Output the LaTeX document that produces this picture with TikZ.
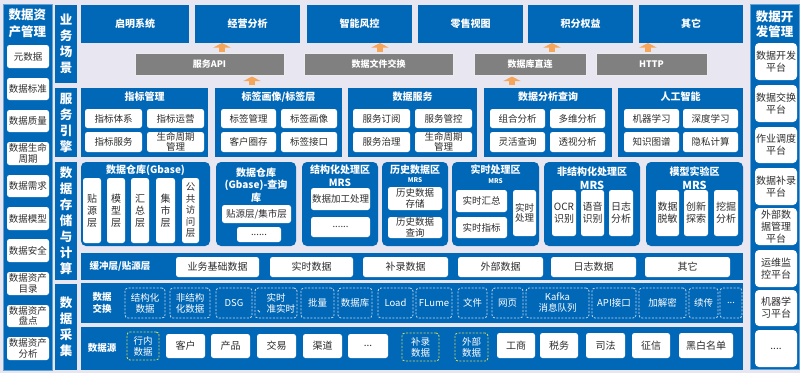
\documentclass[tikz,border=0pt]{standalone}
\usepackage{fontspec}
\setmainfont{Noto Sans CJK SC}
\usetikzlibrary{arrows.meta}
\definecolor{bg}{RGB}{232,230,241}
\definecolor{myblue}{RGB}{0,104,183}
\definecolor{mygray}{RGB}{128,128,128}
\definecolor{myorange}{RGB}{245,166,90}
\definecolor{dashw}{RGB}{200,215,240}
\definecolor{dashy}{RGB}{205,215,90}
\definecolor{txt}{RGB}{45,45,45}
\newcommand\fs[2]{\fontsize{#1}{#2}\selectfont}
\newcommand\bx[7]{\node[#6, minimum width={(#4)-(#2)}, minimum height={(#5)-(#3)}] (#1) at ({((#2)+(#4))/2},{((#3)+(#5))/2}) {#7};}
\tikzset{
  base/.style={inner sep=0pt, outer sep=0pt, align=center},
  bluebox/.style={base, fill=myblue, text=white},
  rpanel/.style={bluebox, rounded corners=5pt},
  sect/.style={bluebox, font=\bfseries\fs{12.5}{16}},
  topbox/.style={bluebox, font=\bfseries\fs{10}{12}},
  wbox/.style={base, fill=white, rounded corners=2.5pt, text=txt, font=\fs{9.5}{10.5}},
  sbox/.style={wbox, rounded corners=4pt, font=\fs{10}{12}},
  graybar/.style={base, fill=mygray, draw=white!85!gray, line width=0.8pt, text=white, font=\bfseries\fs{9}{10}},
  xbox/.style={base, draw=dashw, line width=0.8pt, dash pattern=on 2pt off 1.5pt, rounded corners=3pt, text=white, font=\fs{9.5}{11}},
  ybox/.style={base, draw=dashy, line width=0.9pt, dash pattern=on 2pt off 1.5pt, rounded corners=3pt, text=white, font=\fs{9.5}{11}},
  ttl/.style={base, text=white, font=\bfseries\fs{10}{12.5}},
  smrs/.style={base, text=white, font=\bfseries\fs{6.5}{7}},
  oarr/.style={draw=myorange, line width=6.5pt, -{Triangle[width=17pt,length=4.5pt]}},
}
\begin{document}
\begin{tikzpicture}[x=1pt,y=-1pt]
\fill[bg] (0,0) rectangle (800,373);
\useasboundingbox (0,0) rectangle (800,373);

% left sidebar
\bx{lsb}{3}{4}{52}{370}{bluebox, draw=myblue!60!white, line width=0.6pt}{}
\node[ttl, font=\bfseries\fs{12.5}{16.5}] (lsbt) at (27.5,23.5) {数据资\\产管理};
\bx{l1}{7}{45}{49}{68}{wbox}{元数据}
\bx{l2}{7}{78}{49}{100}{wbox}{数据标准}
\bx{l3}{7}{110}{49}{132}{wbox}{数据质量}
\bx{l4}{7}{142}{49}{165}{wbox}{数据生命\\周期}
\bx{l5}{7}{175}{49}{197}{wbox}{数据需求}
\bx{l6}{7}{207}{49}{230}{wbox}{数据模型}
\bx{l7}{7}{239}{49}{262}{wbox}{数据安全}
\bx{l8}{7}{272}{49}{295}{wbox}{数据资产\\目录}
\bx{l9}{7}{305}{49}{327}{wbox}{数据资产\\盘点}
\bx{l10}{7}{337}{49}{360}{wbox}{数据资产\\分析}

% section labels
\bx{s1}{55}{5}{77}{83}{sect}{业\\务\\场\\景}
\bx{s2}{55}{88}{77}{157}{sect}{服\\务\\引\\擎}
\bx{s3}{55}{162}{77}{280}{sect}{数\\据\\存\\储\\与\\计\\算}
\bx{s4}{55}{284}{77}{370}{sect}{数\\据\\采\\集}

% right sidebar
\bx{rsb}{750}{4}{799}{369}{bluebox, draw=myblue!60!white, line width=0.6pt}{}
\node[ttl, font=\bfseries\fs{12.5}{15}] (rsbt) at (774.5,24.5) {数据开\\发管理};
\bx{r1}{755}{43}{797}{80}{sbox}{数据开发\\平台}
\bx{r2}{755}{85}{797}{122}{sbox}{数据交换\\平台}
\bx{r3}{755}{127}{797}{163}{sbox}{作业调度\\平台}
\bx{r4}{755}{168}{797}{205}{sbox}{数据补录\\平台}
\bx{r5}{755}{208}{797}{245}{sbox}{外部数\\据管理\\平台}
\bx{r6}{755}{250}{797}{287}{sbox}{运维监\\控平台}
\bx{r7}{755}{290}{797}{326}{sbox}{机器学\\习平台}
\bx{r8}{755}{330}{797}{367}{sbox}{....}

% business scenarios
\bx{b1}{81}{5}{189}{43}{topbox}{启明系统}
\bx{b2}{195}{5}{300}{43}{topbox}{经营分析}
\bx{b3}{307}{5}{412}{43}{topbox}{智能风控}
\bx{b4}{418}{5}{523}{43}{topbox}{零售视图}
\bx{b5}{528}{5}{633}{43}{topbox}{积分权益}
\bx{b6}{639}{5}{743}{43}{topbox}{其它}

\bx{g1}{135}{53}{284}{75}{graybar}{服务API}
\bx{g2}{304}{53}{453}{75}{graybar}{数据文件交换}
\bx{g3}{474}{53}{586}{75}{graybar}{数据库直连}
\bx{g4}{596}{53}{707}{75}{graybar}{HTTP}

% service engine
\bx{p1}{81}{88}{208}{157}{bluebox}{}
\bx{p2}{215}{88}{342}{157}{bluebox}{}
\bx{p3}{348}{88}{477}{157}{bluebox}{}
\bx{p4}{484}{88}{612}{157}{bluebox}{}
\bx{p5}{618}{88}{743}{157}{bluebox}{}
\node[ttl] (p1t) at (144.5,97) {指标管理};
\node[ttl] (p2t) at (278.5,97) {标签画像/标签层};
\node[ttl] (p3t) at (412.5,97) {数据服务};
\node[ttl] (p4t) at (548,97) {数据分析查询};
\node[ttl] (p5t) at (680.5,97) {人工智能};
\bx{p1a}{85}{109}{142}{128}{wbox}{指标体系}
\bx{p1b}{147}{109}{204}{128}{wbox}{指标运营}
\bx{p1c}{85}{132}{142}{152}{wbox}{指标服务}
\bx{p1d}{147}{132}{204}{152}{wbox, font=\fs{9.5}{10}}{生命周期\\管理}
\bx{p2a}{221}{109}{276}{128}{wbox}{标签管理}
\bx{p2b}{281}{109}{337}{128}{wbox}{标签画像}
\bx{p2c}{221}{132}{276}{152}{wbox}{客户圈存}
\bx{p2d}{281}{132}{337}{152}{wbox}{标签接口}
\bx{p3a}{353}{109}{410}{128}{wbox}{服务订阅}
\bx{p3b}{415}{109}{472}{128}{wbox}{服务管控}
\bx{p3c}{353}{132}{410}{152}{wbox}{服务治理}
\bx{p3d}{415}{132}{472}{152}{wbox, font=\fs{9.5}{10}}{生命周期\\管理}
\bx{p4a}{490}{109}{545}{128}{wbox}{组合分析}
\bx{p4b}{550}{109}{605}{128}{wbox}{多维分析}
\bx{p4c}{490}{132}{545}{152}{wbox}{灵活查询}
\bx{p4d}{550}{132}{605}{152}{wbox}{透视分析}
\bx{p5a}{624}{109}{679}{128}{wbox}{机器学习}
\bx{p5b}{683}{109}{738}{128}{wbox}{深度学习}
\bx{p5c}{624}{132}{679}{152}{wbox}{知识图谱}
\bx{p5d}{683}{132}{738}{152}{wbox}{隐私计算}

% arrows
\draw[oarr, shorten <=1pt] (222,0 |- g1.north) -- (222,0 |- b2.south);
\draw[oarr, shorten <=1pt] (380,0 |- g2.north) -- (380,0 |- b3.south);
\draw[oarr, shorten <=1pt] (552,0 |- g3.north) -- (552,0 |- b5.south);
\draw[oarr, shorten <=1pt] (648,0 |- g4.north) -- (648,0 |- b6.south);
\draw[oarr, shorten <=3pt, shorten >=1.5pt] (252,0 |- p2.north) -- (252,0 |- g1.south);
\draw[oarr, shorten <=3pt, shorten >=1.5pt] (512,0 |- p4.north) -- (512,0 |- g3.south);

% storage & compute
\bx{q1}{81}{162}{210}{246}{rpanel}{}
\bx{q2}{216}{162}{296}{246}{rpanel}{}
\bx{q3}{302}{162}{378}{246}{rpanel}{}
\bx{q4}{382}{162}{448}{246}{rpanel}{}
\bx{q5}{452}{162}{539}{246}{rpanel}{}
\bx{q6}{544}{162}{640}{246}{rpanel}{}
\bx{q7}{646}{162}{743}{246}{rpanel}{}
\node[ttl] (q1t) at (145.5,170) {数据仓库(Gbase)};
\bx{q1a}{83}{178}{101}{243}{wbox, font=\fs{10}{12}}{贴\\源\\层}
\bx{q1b}{107}{178}{125}{243}{wbox, font=\fs{10}{12}}{模\\型\\层}
\bx{q1c}{131}{178}{149}{243}{wbox, font=\fs{10}{12}}{汇\\总\\层}
\bx{q1d}{156}{178}{175}{243}{wbox, font=\fs{10}{12}}{集\\市\\层}
\bx{q1e}{182}{178}{199}{243}{wbox, font=\fs{9.5}{11.5}}{公\\共\\访\\问\\层}
\node[ttl] (q2t) at (256,185) {数据仓库\\(Gbase)-查询\\库};
\bx{q2a}{222}{205}{291}{223}{wbox}{贴源层/集市层}
\bx{q2b}{237}{227}{281}{242}{wbox}{......}
\node[ttl] (q3t) at (340,170) {结构化处理区};
\node[ttl] (q3m) at (340,182.5) {MRS};
\bx{q3a}{311}{188}{370}{210}{wbox}{数据加工处理}
\bx{q3b}{311}{217}{370}{237}{wbox}{......}
\node[ttl] (q4t) at (415,170) {历史数据区};
\node[smrs] (q4m) at (415,180.5) {MRS};
\bx{q4a}{388}{187}{442}{210}{wbox}{历史数据\\存储}
\bx{q4b}{388}{217}{442}{238}{wbox}{历史数据\\查询}
\node[ttl] (q5t) at (495.5,170) {实时处理区};
\node[smrs] (q5m) at (495.5,181) {MRS};
\bx{q5a}{456}{190}{507}{212}{wbox}{实时汇总}
\bx{q5b}{456}{217}{507}{238}{wbox}{实时指标}
\bx{q5c}{513}{190}{536}{236}{wbox}{实时\\处理}
\node[ttl] (q6t) at (592,172) {非结构化处理区};
\node[ttl, font=\bfseries\fs{11}{12}] (q6m) at (592,185) {MRS};
\bx{q6a}{552}{190}{576}{236}{wbox, font=\fs{10}{12}}{OCR\\识别}
\bx{q6b}{581}{190}{604}{236}{wbox, font=\fs{10}{12}}{语音\\识别}
\bx{q6c}{609}{190}{633}{236}{wbox, font=\fs{10}{12}}{日志\\分析}
\node[ttl] (q7t) at (694.5,172) {模型实验区};
\node[ttl, font=\bfseries\fs{11}{12}] (q7m) at (694.5,185) {MRS};
\bx{q7a}{656}{190}{679}{236}{wbox, font=\fs{10}{12}}{数据\\脱敏}
\bx{q7b}{684}{190}{708}{236}{wbox, font=\fs{10}{12}}{创新\\探索}
\bx{q7c}{714}{190}{738}{236}{wbox, font=\fs{10}{12}}{挖掘\\分析}

% buffer layer
\bx{buf}{81}{253}{743}{280}{bluebox}{}
\node[ttl, font=\bfseries\fs{9.5}{11}] (buft) at (120,266.5) {缓冲层/贴源层};
\bx{u1}{176}{257}{259}{277}{wbox, font=\fs{10}{11}}{业务基础数据}
\bx{u2}{270}{257}{353}{277}{wbox, font=\fs{10}{11}}{实时数据}
\bx{u3}{363}{257}{448}{277}{wbox, font=\fs{10}{11}}{补录数据}
\bx{u4}{458}{257}{543}{277}{wbox, font=\fs{10}{11}}{外部数据}
\bx{u5}{551}{257}{636}{277}{wbox, font=\fs{10}{11}}{日志数据}
\bx{u6}{645}{257}{730}{277}{wbox, font=\fs{10}{11}}{其它}

% data exchange
\bx{xch}{81}{283}{743}{323}{bluebox}{}
\node[ttl, font=\bfseries\fs{9.5}{12}] (xcht) at (102,303) {数据\\交换};
\bx{x1}{125}{288}{165}{318}{xbox}{结构化\\数据}
\bx{x2}{170}{288}{210}{318}{xbox}{非结构\\化数据}
\bx{x3}{216}{288}{252}{318}{xbox}{DSG}
\bx{x4}{255}{288}{297}{318}{xbox}{实时\\、准实时}
\bx{x5}{301}{288}{334}{318}{xbox}{批量}
\bx{x6}{338}{288}{372}{318}{xbox}{数据库}
\bx{x7}{378}{288}{413}{318}{xbox}{Load}
\bx{x8}{416}{288}{452}{318}{xbox}{FLume}
\bx{x9}{458}{288}{487}{318}{xbox}{文件}
\bx{x10}{492}{288}{523}{318}{xbox}{网页}
\bx{x11}{526}{288}{589}{318}{xbox}{Kafka\\消息队列}
\bx{x12}{592}{288}{636}{318}{xbox}{API接口}
\bx{x13}{639}{288}{686}{318}{xbox}{加解密}
\bx{x14}{689}{288}{718}{318}{xbox}{续传}
\bx{x15}{720}{288}{742}{318}{xbox}{...}

% data sources
\bx{src}{81}{327}{743}{370}{bluebox}{}
\node[ttl, font=\bfseries\fs{9.5}{12}] (srct) at (102,348) {数据源};
\bx{d1}{127}{332}{159}{360}{ybox}{行内\\数据}
\bx{d2}{166}{334}{205}{358}{wbox, font=\fs{10}{11}}{客户}
\bx{d3}{211}{334}{250}{358}{wbox, font=\fs{10}{11}}{产品}
\bx{d4}{257}{334}{296}{358}{wbox, font=\fs{10}{11}}{交易}
\bx{d5}{303}{334}{342}{358}{wbox, font=\fs{10}{11}}{渠道}
\bx{d6}{348}{334}{388}{358}{wbox, font=\fs{10}{11}}{...}
\bx{d7}{402}{333}{439}{361}{ybox}{补录\\数据}
\bx{d8}{455}{333}{488}{361}{ybox}{外部\\数据}
\bx{d9}{497}{333}{535}{358}{wbox, font=\fs{10}{11}}{工商}
\bx{d10}{540}{333}{578}{358}{wbox, font=\fs{10}{11}}{税务}
\bx{d11}{586}{333}{625}{358}{wbox, font=\fs{10}{11}}{司法}
\bx{d12}{632}{333}{670}{358}{wbox, font=\fs{10}{11}}{征信}
\bx{d13}{679}{333}{733}{358}{wbox, font=\fs{10}{11}}{黑白名单}
\end{tikzpicture}
\end{document}
